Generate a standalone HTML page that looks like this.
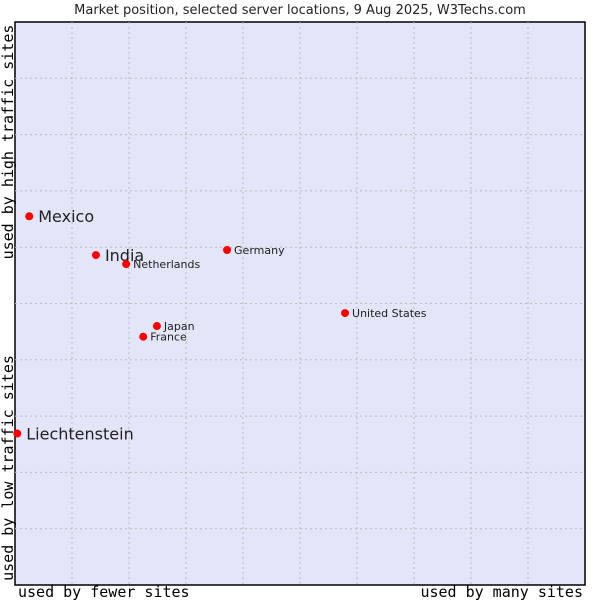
<!DOCTYPE html>
<html><head><meta charset="utf-8"><style>
body{margin:0;background:#fff;width:600px;height:600px;overflow:hidden}
svg text{font-family:"DejaVu Sans","Liberation Sans",sans-serif;fill:#222}
.mono{font-family:"DejaVu Sans Mono","Liberation Mono",monospace;font-size:15px;fill:#000}
</style></head><body>
<svg id="chart" width="600" height="600" xmlns="http://www.w3.org/2000/svg">
<text x="300" y="14" text-anchor="middle" font-size="13">Market position, selected server locations, 9 Aug 2025, W3Techs.com</text>
<rect x="15" y="22" width="570" height="563" fill="#e3e5f8" stroke="#000" stroke-width="1.5"/>
<g id="grid"></g>
<g id="points"></g>
<text class="mono" x="18" y="597">used by fewer sites</text>
<text class="mono" x="583" y="597" text-anchor="end">used by many sites</text>
<text class="mono" transform="translate(13,142) rotate(-90)" text-anchor="middle">used by high traffic sites</text>
<text class="mono" transform="translate(13,468) rotate(-90)" text-anchor="middle">used by low traffic sites</text>
</svg>
<script>
const countries=["Mexico","India","Netherlands","Germany","Japan","France","United States","Liechtenstein"];
const xValues=[2.5,14.2,19.5,37.2,24.9,22.5,57.9,0.4];
const yValues=[65.5,58.6,57.0,59.5,46.0,44.1,48.3,26.9];
const bigLabel=[true,true,false,false,false,false,false,true];
const NS="http://www.w3.org/2000/svg";
const L=15,R=585,T=22,B=585;
const sx=v=>L+(R-L)*v/100, sy=v=>B-(B-T)*v/100;
const grid=document.getElementById('grid');
for(let i=1;i<10;i++){
 const v=document.createElementNS(NS,'line');
 
 
 v.setAttribute('x1',sx(i*10));v.setAttribute('x2',sx(i*10));v.setAttribute('y1',T);v.setAttribute('y2',B);
 v.setAttribute('stroke','#bbb');v.setAttribute('stroke-dasharray','2,3');grid.appendChild(v);
 const h=document.createElementNS(NS,'line');
 
 
 h.setAttribute('y1',sy(i*10));h.setAttribute('y2',sy(i*10));h.setAttribute('x1',L);h.setAttribute('x2',R);
 h.setAttribute('stroke','#bbb');h.setAttribute('stroke-dasharray','2,3');grid.appendChild(h);
}
const pts=document.getElementById('points');
countries.forEach((c,i)=>{
 const x=sx(xValues[i]),y=sy(yValues[i]);
 const d=document.createElementNS(NS,'circle');
 
 
 d.setAttribute('cx',x);d.setAttribute('cy',y);d.setAttribute('r',4);d.setAttribute('fill','#f00');
 pts.appendChild(d);
 const t=document.createElementNS(NS,'text');
 
 
 t.setAttribute('x',x+(bigLabel[i]?9:7));t.setAttribute('y',y+(bigLabel[i]?6:4));
 t.setAttribute('font-size',bigLabel[i]?16:11);
 t.textContent=c;pts.appendChild(t);
});
</script>
</body></html>
